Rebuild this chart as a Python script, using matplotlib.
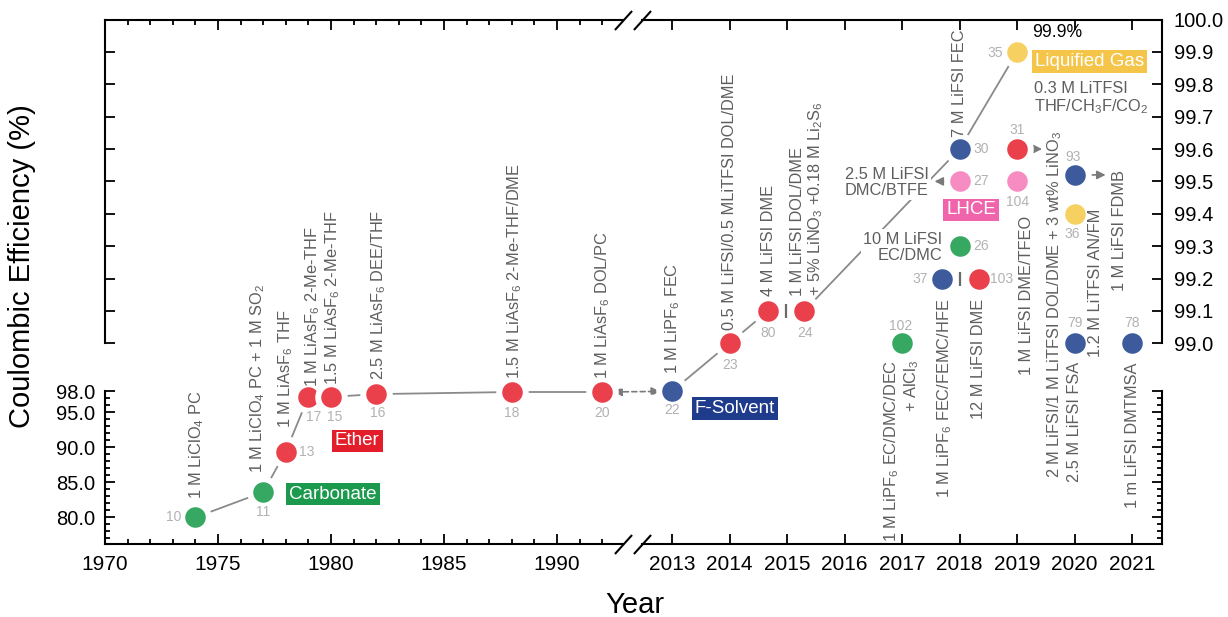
import numpy as np
import matplotlib
matplotlib.use("Agg")
import matplotlib.pyplot as plt
from matplotlib.ticker import FixedLocator, FuncFormatter, NullLocator

plt.rcParams["font.family"] = ["Liberation Sans", "DejaVu Sans"]
plt.rcParams["mathtext.default"] = "regular"

# ---------------------------------------------------------------- data
refs = [10, 11, 13, 17, 15, 16, 18, 20, 22, 23, 80, 24, 102, 37, 103,
        26, 27, 30, 104, 31, 35, 93, 36, 79, 78]
years = [1974, 1977, 1978, 1979, 1980, 1982, 1988, 1992, 2013, 2014, 2014.67,
         2015.3, 2017, 2017.69, 2018.33, 2018, 2018, 2018, 2019, 2019, 2019,
         2020, 2020, 2020, 2021]
ce = [80.0, 83.6, 89.4, 97.2, 97.2, 97.6, 97.9, 97.9, 98.0, 99.0, 99.1,
      99.1, 99.0, 99.2, 99.2, 99.3, 99.5, 99.6, 99.5, 99.6, 99.9,
      99.52, 99.4, 99.0, 99.0]
chem = ["Carbonate", "Carbonate", "Ether", "Ether", "Ether", "Ether", "Ether",
        "Ether", "F-Solvent", "Ether", "Ether", "Ether", "Carbonate",
        "F-Solvent", "Ether", "Carbonate", "LHCE", "F-Solvent", "LHCE",
        "Ether", "Liquified Gas", "F-Solvent", "Liquified Gas", "F-Solvent",
        "F-Solvent"]

electrolytes = {
    10: "1 M LiClO$_4$ PC",
    11: "1 M LiClO$_4$ PC + 1 M SO$_2$",
    13: "1 M LiAsF$_6$ THF",
    17: "1 M LiAsF$_6$ 2-Me-THF",
    15: "1.5 M LiAsF$_6$ 2-Me-THF",
    16: "2.5 M LiAsF$_6$ DEE/THF",
    18: "1.5 M LiAsF$_6$ 2-Me-THF/DME",
    20: "1 M LiAsF$_6$ DOL/PC",
    22: "1 M LiPF$_6$ FEC",
    23: "0.5 M LiFSI/0.5 MLiTFSI DOL/DME",
    80: "4 M LiFSI DME",
    24: "1 M LiFSI DOL/DME\n+ 5% LiNO$_3$ +0.18 M Li$_2$S$_6$",
    102: "1 M LiPF$_6$ EC/DMC/DEC\n+ AlCl$_3$",
    37: "1 M LiPF$_6$ FEC/FEMC/HFE",
    103: "12 M LiFSI DME",
    26: "10 M LiFSI\nEC/DMC",
    27: "2.5 M LiFSI\nDMC/BTFE",
    30: "7 M LiFSI FEC",
    104: "1 M LiFSI DME/TFEO",
    31: "2 M LiFSI/1 M LiTFSI DOL/DME + 3 wt% LiNO$_3$",
    35: "0.3 M LiTFSI\nTHF/CH$_3$F/CO$_2$",
    93: "1 M LiFSI FDMB",
    36: "1.2 M LiTFSI AN/FM",
    79: "2.5 M LiFSI FSA",
    78: "1 m LiFSI DMTMSA",
}

# consecutive records joined by the grey trend line
trend_paths = [[10, 11, 13, 17], [15, 16, 18, 20], [22, 23, 80], [24, 30, 35]]
# pairs of records shown side by side with a separator bar
separators = [(80, 24), (37, 103)]
# arrows from a record to its electrolyte text (length in px, +right)
pointer_arrows = {27: -25, 31: 25, 93: 31}
best_ce_label = "99.9%"
best_ce_ref = 35

categories = ["Carbonate", "Ether", "F-Solvent", "LHCE", "Liquified Gas"]
marker_colors = {"Carbonate": "#36a862", "Ether": "#e9404c",
                 "F-Solvent": "#3d5a9c", "LHCE": "#f78cc3",
                 "Liquified Gas": "#f6d061"}
box_colors = {"Carbonate": "#1b9a4e", "Ether": "#e31e2a",
              "F-Solvent": "#1f3c8c", "LHCE": "#f064ac",
              "Liquified Gas": "#f5c54a"}

x_major = [1970, 1975, 1980, 1985, 1990] + list(range(2013, 2022))
x_minor = [y for y in range(1971, 1993) if y % 5]
y_lower_major = [80, 85, 90, 95, 98]
y_lower_minor = [v for v in range(77, 98) if v not in y_lower_major]
y_upper_major = [round(99 + 0.1 * i, 1) for i in range(11)]

# ---------------------------------------------------------------- layout
DPI = 100
PX = 72 / DPI          # one pixel in points
W, H = 1228, 617
AX_L, AX_R, AX_T, AX_B = 105, 1162, 19.5, 544

# broken axes: knots (data) -> position (pixels along the axis)
YEAR_KNOTS = [1970, 1992, 2013, 2021.52]
YEAR_POS = [0, 497.2, 567, 1057]
CE_KNOTS = [76.2, 98, 99, 100]
CE_POS = [0, 152.7, 200.7, 524.5]
BREAK_LO, BREAK_HI = 1998.3, 2004.0

LABEL_SIZE = 11.8


def piecewise(xp, fp):
    xp = np.asarray(xp, float)
    fp = np.asarray(fp, float)
    s0 = (fp[1] - fp[0]) / (xp[1] - xp[0])
    s1 = (fp[-1] - fp[-2]) / (xp[-1] - xp[-2])

    def f(v):
        v = np.asarray(v, float)
        out = np.interp(v, xp, fp)
        out = np.where(v < xp[0], fp[0] + (v - xp[0]) * s0, out)
        out = np.where(v > xp[-1], fp[-1] + (v - xp[-1]) * s1, out)
        return out
    return f


x_fwd, x_inv = piecewise(YEAR_KNOTS, YEAR_POS), piecewise(YEAR_POS, YEAR_KNOTS)
y_fwd, y_inv = piecewise(CE_KNOTS, CE_POS), piecewise(CE_POS, CE_KNOTS)

fig = plt.figure(figsize=(W / DPI, H / DPI), dpi=DPI)
ax = fig.add_axes([AX_L / W, 1 - AX_B / H, (AX_R - AX_L) / W, (AX_B - AX_T) / H])
ax.set_xscale("function", functions=(x_fwd, x_inv))
ax.set_yscale("function", functions=(y_fwd, y_inv))
ax.set_xlim(YEAR_KNOTS[0], YEAR_KNOTS[-1])
ax.set_ylim(CE_KNOTS[0], CE_KNOTS[-1])

ax2 = ax.twinx()
ax2.set_yscale("function", functions=(y_fwd, y_inv))
ax2.set_ylim(CE_KNOTS[0], CE_KNOTS[-1])

# ticks
ax.xaxis.set_major_locator(FixedLocator(x_major))
ax.xaxis.set_minor_locator(FixedLocator(x_minor))
ax.xaxis.set_major_formatter(FuncFormatter(lambda v, p: f"{v:.0f}"))
ax.yaxis.set_major_locator(FixedLocator(y_lower_major + y_upper_major))
ax.yaxis.set_minor_locator(FixedLocator(y_lower_minor))
ax.yaxis.set_major_formatter(
    FuncFormatter(lambda v, p: f"{v:.1f}" if v <= 98.01 else ""))
ax2.yaxis.set_major_locator(FixedLocator(y_upper_major))
ax2.yaxis.set_minor_locator(NullLocator())
ax2.yaxis.set_major_formatter(FuncFormatter(lambda v, p: f"{v:.1f}"))

ax.tick_params(axis="both", which="both", direction="in", top=True,
               bottom=True, left=True, right=True, labelright=False,
               labeltop=False, width=1.3, color="black")
ax.tick_params(which="major", length=7.2)
ax.tick_params(which="minor", length=3.6)
ax.tick_params(axis="x", labelsize=15, pad=8)
ax.tick_params(axis="y", labelsize=14.5, pad=7)
ax2.tick_params(axis="y", which="both", direction="in", length=0,
                labelsize=14.5, pad=8.5)

# frame: lower and upper halves on the y axis, left/right halves on x
for side in ("left", "right"):
    ax.spines[side].set_bounds(CE_KNOTS[0], 98)
    ax2.spines[side].set_bounds(99, CE_KNOTS[-1])
for side in ("top", "bottom"):
    ax.spines[side].set_bounds(YEAR_KNOTS[0], BREAK_LO)
    ax2.spines[side].set_bounds(BREAK_HI, YEAR_KNOTS[-1])
for a in (ax, ax2):
    for sp in a.spines.values():
        sp.set_linewidth(1.5)

for xb in (BREAK_LO, BREAK_HI):
    ax.plot([xb, xb], [0, 1], transform=ax.get_xaxis_transform(),
            marker=[(-0.9, -1), (0.9, 1)], ms=13.7, mew=1.5, color="black",
            ls="none", clip_on=False, zorder=6)

# ---------------------------------------------------------------- marks
idx = {r: i for i, r in enumerate(refs)}
pt = {r: (years[idx[r]], ce[idx[r]]) for r in refs}

LINE_GREY = "#8a8a8a"
TEXT_GREY = "#5e5e5e"
NUM_GREY = "#b2b2b2"

for path in trend_paths:
    ax.plot([pt[r][0] for r in path], [pt[r][1] for r in path],
            color=LINE_GREY, lw=1.3, zorder=2, solid_capstyle="butt")

for cat in categories:
    sel = [i for i, c in enumerate(chem) if c == cat]
    ax.plot([years[i] for i in sel], [ce[i] for i in sel], ls="none",
            marker="o", ms=19.1, mfc=marker_colors[cat], mec="white",
            mew=4.3, zorder=4)

for a, b in separators:
    ax.plot([(pt[a][0] + pt[b][0]) / 2], [(pt[a][1] + pt[b][1]) / 2],
            marker="|", ms=10, mew=1.6, color="#6a6a6a", ls="none", zorder=4)

arrow_kw = dict(color="#7a7a7a", lw=1.2, shrinkA=0, shrinkB=8)
for r, length in pointer_arrows.items():
    ax.annotate("", xy=pt[r], xytext=(length * PX, 0),
                textcoords="offset points",
                arrowprops=dict(arrowstyle="<|-,head_length=0.5,head_width=0.25",
                                **arrow_kw), zorder=3)
ax.annotate("", xy=pt[22], xytext=pt[20],
            arrowprops=dict(arrowstyle="<|-|>,head_length=0.5,head_width=0.25",
                            color="#7a7a7a", lw=1.2, ls=(0, (3, 2)),
                            shrinkA=8, shrinkB=8.6), zorder=3)

# electrolyte labels: dx, dy (px, +up), rotation, ha, va, multialignment
label_layout = {
    10: (1, 18, 90, "center", "bottom", "left"),
    11: (-6, 19, 90, "center", "bottom", "left"),
    13: (0, 24, 90, "center", "bottom", "left"),
    17: (4, 10, 90, "center", "bottom", "left"),
    15: (2, 12, 90, "center", "bottom", "left"),
    16: (2, 14, 90, "center", "bottom", "left"),
    18: (3, 13, 90, "center", "bottom", "left"),
    20: (0, 13, 90, "center", "bottom", "left"),
    22: (1, 17, 90, "center", "bottom", "left"),
    23: (0, 13, 90, "center", "bottom", "left"),
    80: (0, 15, 90, "center", "bottom", "left"),
    24: (3, 15, 90, "center", "bottom", "left"),
    30: (0, 12, 90, "center", "bottom", "left"),
    102: (0, -17, 90, "center", "top", "right"),
    37: (3, -20, 90, "center", "top", "right"),
    103: (0, -20, 90, "center", "top", "right"),
    104: (9, -34, 90, "center", "top", "right"),
    31: (38, -329, 90, "center", "bottom", "left"),
    79: (0, -19, 90, "center", "top", "right"),
    36: (21, 5, 90, "center", "top", "right"),
    93: (45, 5, 90, "center", "top", "right"),
    78: (0, -19, 90, "center", "top", "right"),
    26: (-17, -1, 0, "right", "center", "right"),
    27: (-31, -1, 0, "right", "center", "center"),
    35: (17, -47, 0, "left", "center", "left"),
}
masking = {26, 27}
for r, (dx, dy, rot, ha, va, ma) in label_layout.items():
    kw = {}
    z = 5
    if r in masking:
        kw["bbox"] = dict(boxstyle="square,pad=0.15", fc="white", ec="none")
        z = 3
    ax.annotate(electrolytes[r], xy=pt[r], xytext=(dx * PX, dy * PX),
                textcoords="offset points", rotation=rot, ha=ha, va=va,
                multialignment=ma, fontsize=LABEL_SIZE, color=TEXT_GREY,
                linespacing=1.1, zorder=z, **kw)

ax.annotate(best_ce_label, xy=pt[best_ce_ref], xytext=(15 * PX, 19 * PX),
            textcoords="offset points", ha="left", va="center",
            fontsize=12.7, color="black", zorder=7)

# reference numbers
num_layout = {
    10: (-22, 0), 11: (0, -20), 13: (21, 0), 17: (5, -20), 15: (4, -20),
    16: (1, -19), 18: (0, -21), 20: (0, -21), 22: (0, -19), 23: (1, -22),
    80: (0, -22), 24: (1, -22), 102: (-1, 17), 37: (-22, 0), 103: (23, 0),
    26: (22, 0), 27: (22, 0), 30: (22, 0), 104: (0, -21), 31: (0, 19),
    35: (-22, -1), 93: (-2, 18), 36: (-2, -20), 79: (0, 20), 78: (0, 20),
}
for r, (dx, dy) in num_layout.items():
    ax.annotate(str(r), xy=pt[r], xytext=(dx * PX, dy * PX),
                textcoords="offset points", ha="center", va="center",
                fontsize=10, color=NUM_GREY, zorder=5)

# class boxes: anchor record, dx, dy (px), ha
box_layout = {
    "Carbonate": (11, 26, -2, "left"),
    "Ether": (15, 4, -44, "left"),
    "F-Solvent": (22, 23, -17.5, "left"),
    "LHCE": (27, 11.5, -28.5, "center"),
    "Liquified Gas": (35, 18, -9.5, "left"),
}
for cat in categories:
    r, dx, dy, ha = box_layout[cat]
    ax.annotate(cat, xy=pt[r], xytext=(dx * PX, dy * PX),
                textcoords="offset points", ha=ha, va="center",
                fontsize=13.5, color="white", zorder=6,
                bbox=dict(boxstyle="square,pad=0.15", fc=box_colors[cat],
                          ec="none"))

fig.text(22 / W, 1 - 266 / H, "Coulombic Efficiency (%)", rotation=90,
         ha="center", va="center", fontsize=21)
fig.text(635 / W, 1 - 605 / H, "Year", ha="center", va="center", fontsize=21)

fig.savefig("out.png", dpi=DPI)
